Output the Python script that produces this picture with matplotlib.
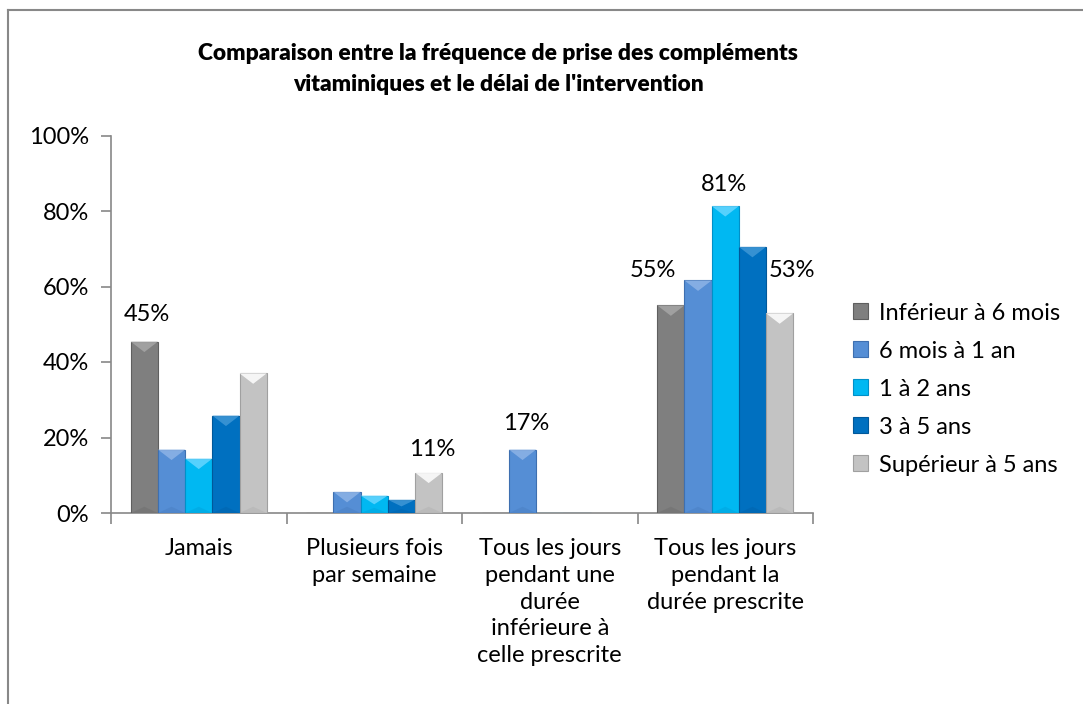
import matplotlib.pyplot as plt
from matplotlib.patches import Polygon
from matplotlib.lines import Line2D
import numpy as np

plt.rcParams['font.family'] = ['Lato', 'DejaVu Sans']

categories = ['Jamais', 'Plusieurs fois\npar semaine',
              'Tous les jours\npendant une\ndurée\ninférieure à\ncelle prescrite',
              'Tous les jours\npendant la\ndurée prescrite']
series = ['Inférieur à 6 mois', '6 mois à 1 an', '1 à 2 ans', '3 à 5 ans', 'Supérieur à 5 ans']
inf_6_mois = [45.4, 0, 0, 55.0]
mois_6_1an = [16.8, 5.6, 16.8, 61.6]
ans_1_2 = [14.4, 4.6, 0, 81.3]
ans_3_5 = [25.8, 3.5, 0, 70.5]
sup_5_ans = [37.0, 10.7, 0, 52.9]
values = [inf_6_mois, mois_6_1an, ans_1_2, ans_3_5, sup_5_ans]
# which bars carry a value label (series index, category index)
labelled = [(0, 0), (4, 1), (1, 2), (0, 3), (2, 3), (4, 3)]

colors = ['#7f7f7f', '#558ed5', '#00b8f2', '#0070c0', '#c3c3c3']
lights = ['#a6a6a6', '#8db3e6', '#66d6ff', '#3f97d6', '#ffffff']
darks = ['#5f5f5f', '#3e6fb0', '#0090c8', '#00589a', '#a0a0a0']
label_offsets = {(0, 0): (3, 27), (4, 1): (4, 23), (1, 2): (4, 26),
                 (0, 3): (-18, 35), (2, 3): (-1, 22), (4, 3): (12, 43)}
FS = 17

fig = plt.figure(figsize=(10.83, 7.04), dpi=100)
ax = fig.add_axes([111 / 1083, 1 - 513 / 704, 702 / 1083, 377.5 / 704])

x = np.arange(len(categories))
w = 0.155
bars = []
for i, s in enumerate(series):
    b = ax.bar(x + (i - 2) * w, values[i], w, color=colors[i], edgecolor=darks[i],
               linewidth=0.8, label=s, zorder=3)
    bars.append(b)

ax.set_xlim(-0.5, len(categories) - 0.5)
ax.set_ylim(0, 100)
ax.set_yticks(np.arange(0, 101, 20))
ax.set_yticklabels(['%d%%' % v for v in range(0, 101, 20)], fontsize=FS)
ax.set_xticks(x)
ax.set_xticklabels(categories, fontsize=FS, linespacing=1.34, va='top')
ax.set_xticks(np.arange(-0.5, len(categories)), minor=True)
ax.tick_params(axis='x', which='major', length=0, pad=18)
ax.tick_params(axis='x', which='minor', length=8, color='#888888', width=1.2)
ax.tick_params(axis='y', length=7, color='#888888', width=1.2, pad=9)
for sp in ['top', 'right']:
    ax.spines[sp].set_visible(False)
for sp in ['left', 'bottom']:
    ax.spines[sp].set_color('#888888')
    ax.spines[sp].set_linewidth(1.2)

fig.canvas.draw()
# bevel: lighter top triangle and darker bottom triangle in pixel space
for i, b in enumerate(bars):
    for p in b.patches:
        if p.get_height() <= 0:
            continue
        bb = p.get_window_extent()
        d = min(bb.width / 2.6, bb.height / 2)
        inv = ax.transData.inverted()
        cx = (bb.x0 + bb.x1) / 2
        top = [(bb.x0, bb.y1), (bb.x1, bb.y1), (cx, bb.y1 - d)]
        bot = [(bb.x0, bb.y0), (bb.x1, bb.y0), (cx, bb.y0 + d * 0.6)]
        ax.add_patch(Polygon(inv.transform(top), closed=True, color=lights[i],
                             alpha=0.85, zorder=4, linewidth=0))
        ax.add_patch(Polygon(inv.transform(bot), closed=True, color=darks[i],
                             alpha=0.25, zorder=4, linewidth=0))

for (si, ci) in labelled:
    v = values[si][ci]
    ax.annotate('%.0f%%' % v, (x[ci] + (si - 2) * w, v), xytext=label_offsets[(si, ci)],
                textcoords='offset pixels', ha='center', va='center', fontsize=FS)

fig.legend(loc='center left', bbox_to_anchor=(853 / 1083, 1 - 389 / 704), frameon=False,
           fontsize=FS, handlelength=0.65, handleheight=0.65, handletextpad=0.45,
           labelspacing=0.72, borderaxespad=0, borderpad=0)

fig.text(498 / 1083, 1 - 69 / 704,
         "Comparaison entre la fréquence de prise des compléments\nvitaminiques et le délai de l'intervention",
         ha='center', va='center', fontsize=16.4, fontweight='heavy', linespacing=1.62)

fig.add_artist(Line2D([8 / 1083, 8 / 1083], [0, 1 - 10 / 704], transform=fig.transFigure,
                      color='#888888', linewidth=1.5))
fig.add_artist(Line2D([8 / 1083, 1], [1 - 10 / 704, 1 - 10 / 704], transform=fig.transFigure,
                      color='#888888', linewidth=1.5))

fig.savefig('out.png', dpi=100)
